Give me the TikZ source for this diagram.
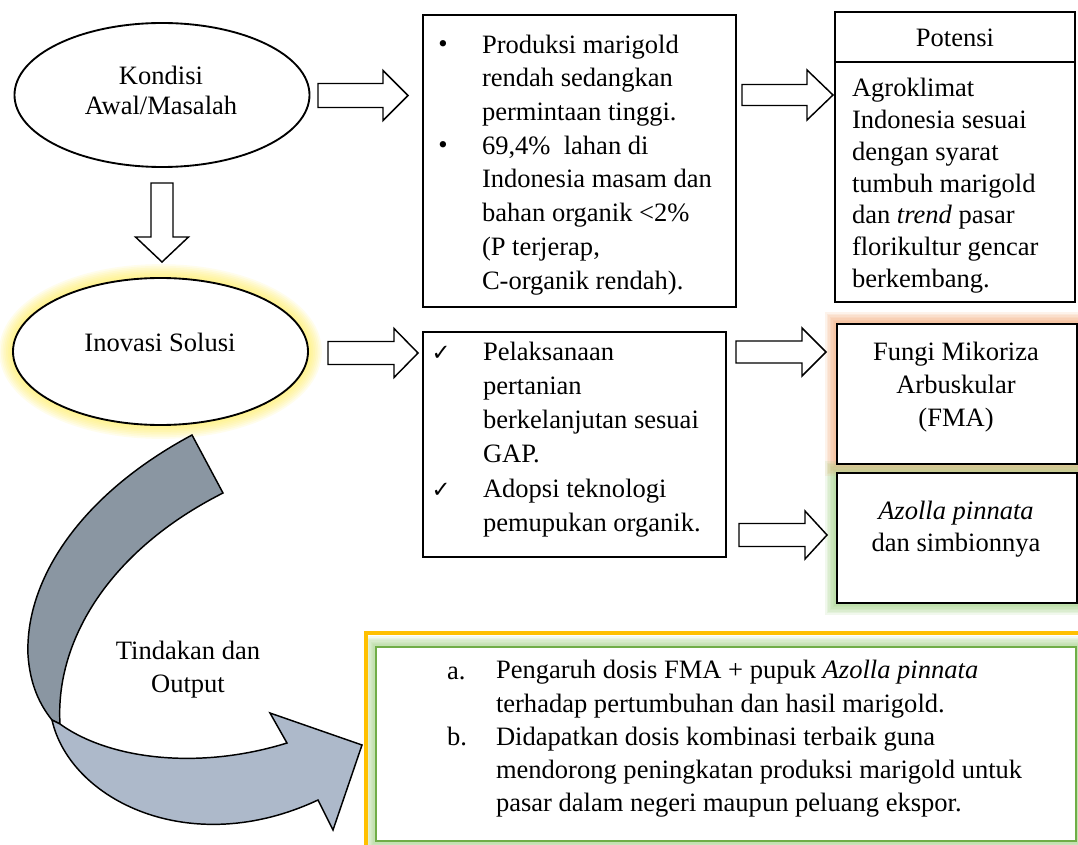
\documentclass[tikz,border=0pt]{standalone}
\usepackage{fontspec}
\setmainfont{Liberation Serif}
\newfontfamily\symfont{DejaVu Sans}
\usetikzlibrary{shapes.geometric}
\definecolor{glowY}{RGB}{255,238,70}
\definecolor{glowO}{RGB}{244,170,120}
\definecolor{glowG}{RGB}{160,210,130}
\definecolor{greenB}{RGB}{112,173,71}
\definecolor{orangeF}{RGB}{255,192,0}
\definecolor{arrowD}{RGB}{138,150,162}
\definecolor{arrowL}{RGB}{173,185,202}
\newcommand\rblock[6]{\draw[blockarrow] (#1,{#4-#5}) -- (#2,{#4-#5}) -- (#2,{#4-#6}) -- (#3,#4) -- (#2,{#4+#6}) -- (#2,{#4+#5}) -- (#1,{#4+#5}) -- cycle;}
\begin{document}
\begin{tikzpicture}[x=0.75pt,y=-0.75pt,
  every node/.style={inner sep=0pt, outer sep=0pt},
  frame/.style={draw, line width=1.4pt, fill=white, rectangle},
  oval/.style={draw, line width=1.4pt, fill=white, ellipse},
  blockarrow/.style={draw, line width=1.1pt, fill=white, line join=miter},
  curvearrow/.style={draw, line width=1.1pt, line join=miter},
  body/.style={font=\fontsize{19.9}{25.3}\selectfont, align=left, anchor=base west},
  cbody/.style={font=\fontsize{19.9}{24.75}\selectfont, align=center, anchor=base},
  bulletmark/.style={font=\fontsize{19.9}{24}\selectfont, anchor=base},
  tickmark/.style={font=\symfont\fontsize{17}{19}\selectfont, anchor=base},
]
\useasboundingbox (0,0) rectangle (1078,845);
\fill[white] (0,0) rectangle (1078,845);

% ---------- glows ----------
\foreach \i in {1,...,8}{
  \draw[glowY, line width=\i*2.6pt, draw opacity=0.1] (160.5,351.5) ellipse [x radius=147.5, y radius=73.5];
  \draw[glowO, line width=\i*2.2pt, draw opacity=0.14] (837,324) rectangle (1077,464);
  \draw[glowG, line width=\i*2.2pt, draw opacity=0.14] (837,473) rectangle (1077,603);
  \draw[glowG, line width=\i*2.0pt, draw opacity=0.12] (376,647) rectangle (1076,841);
}
\draw[orangeF, line width=2.3pt] (366,870) -- (366,633) -- (1100,633);

% ---------- shapes ----------
\node[oval, minimum width=295*0.75pt, minimum height=144*0.75pt] (kondisi) at (162,95) {};
\node[oval, minimum width=295*0.75pt, minimum height=147*0.75pt] (inovasi) at (160.5,351.5) {};

\node[frame, minimum width=313*0.75pt, minimum height=292*0.75pt] (masalah) at (579.5,161) {};
\node[frame, minimum width=240*0.75pt, minimum height=50*0.75pt] (potH) at (955,37) {};
\node[frame, minimum width=240*0.75pt, minimum height=240*0.75pt] (potB) at (955,182) {};
\node[frame, minimum width=303*0.75pt, minimum height=225*0.75pt] (solusi) at (574.5,444.5) {};
\node[frame, minimum width=240*0.75pt, minimum height=140*0.75pt] (fma) at (957,394) {};
\node[frame, minimum width=240*0.75pt, minimum height=130*0.75pt] (azolla) at (957,538) {};
\node[draw=greenB, line width=2.2pt, fill=white, rectangle, minimum width=700*0.75pt, minimum height=194*0.75pt] (hasil) at (726,744) {};

% ---------- block arrows ----------
\rblock{318}{383}{408}{95.5}{12}{25}
\rblock{742}{807}{833}{95}{10.5}{25}
\rblock{328}{394}{418}{353}{11.5}{24.5}
\rblock{736}{802}{826}{352}{11}{24}
\rblock{739}{805}{827}{535}{11.5}{24}
\draw[blockarrow] (151,183) -- (173,183) -- (173,237) -- (188.5,237) -- (162,262) -- (135.5,237) -- (151,237) -- cycle;

% ---------- curved arrow ----------
\draw[curvearrow, fill=arrowD] (192,435) .. controls (80,495) and (25,580) .. (28,655)
  .. controls (30,685) and (40,705) .. (52,720) -- (60,724)
  .. controls (55,640) and (110,550) .. (223,493) -- cycle;
\draw[curvearrow, fill=arrowL] (52,720) .. controls (70,800) and (190,860) .. (318,800)
  -- (333,830) -- (362,745) -- (270,713) -- (287,743)
  .. controls (200,770) and (110,760) .. (60,724) -- cycle;

% ---------- texts (anchor = baseline of last line) ----------
\node[cbody, font=\fontsize{19.9}{22}\selectfont] (kondisiT) at (161,114.3) {Kondisi\\Awal/Masalah};
\node[cbody] (inovasiT) at (160,351) {Inovasi Solusi};
\node[cbody] (tindT) at (188,692) {Tindakan dan\\Output};

\node[bulletmark] (b1) at (443,53) {•};
\node[body] (m1) at (482,120.5) {Produksi marigold\\rendah sedangkan\\permintaan tinggi.};
\node[bulletmark] (b2) at (443,154) {•};
\node[body] (m2) at (482,289) {69,4\%\ \ lahan di\\Indonesia masam dan\\bahan organik <2\%\\(P terjerap,\\C-organik rendah).};

\node[cbody] (potHT) at (955,47) {Potensi};
\node[body, font=\fontsize{19.9}{23.8}\selectfont] (potT) at (852,287.4) {Agroklimat\\Indonesia sesuai\\dengan syarat\\tumbuh marigold\\dan \textit{trend} pasar\\florikultur gencar\\berkembang.};

\node[tickmark] (c1) at (441,360) {✓};
\node[body, font=\fontsize{19.9}{25.7}\selectfont] (s1) at (483,462.8) {Pelaksanaan\\pertanian\\berkelanjutan sesuai\\GAP.};
\node[tickmark] (c2) at (441,497) {✓};
\node[body, font=\fontsize{19.9}{25.7}\selectfont] (s2) at (483,531.3) {Adopsi teknologi\\pemupukan organik.};

\node[cbody, font=\fontsize{19.9}{24.75}\selectfont] (fmaT) at (956,426) {Fungi Mikoriza\\Arbuskular\\(FMA)};
\node[cbody, font=\fontsize{19.9}{23.3}\selectfont] (azollaT) at (956,551) {\textit{Azolla pinnata}\\dan simbionnya};

\node[body, font=\fontsize{19.9}{25}\selectfont] (la) at (447,679) {a.};
\node[body, font=\fontsize{19.9}{25}\selectfont] (ha) at (496,712.3) {Pengaruh dosis FMA + pupuk \textit{Azolla pinnata}\\terhadap pertumbuhan dan hasil marigold.};
\node[body, font=\fontsize{19.9}{25}\selectfont] (lb) at (447,745) {b.};
\node[body, font=\fontsize{19.9}{25}\selectfont] (hb) at (496,811.7) {Didapatkan dosis kombinasi terbaik guna\\mendorong peningkatan produksi marigold untuk\\pasar dalam negeri maupun peluang ekspor.};
\end{tikzpicture}
\end{document}
